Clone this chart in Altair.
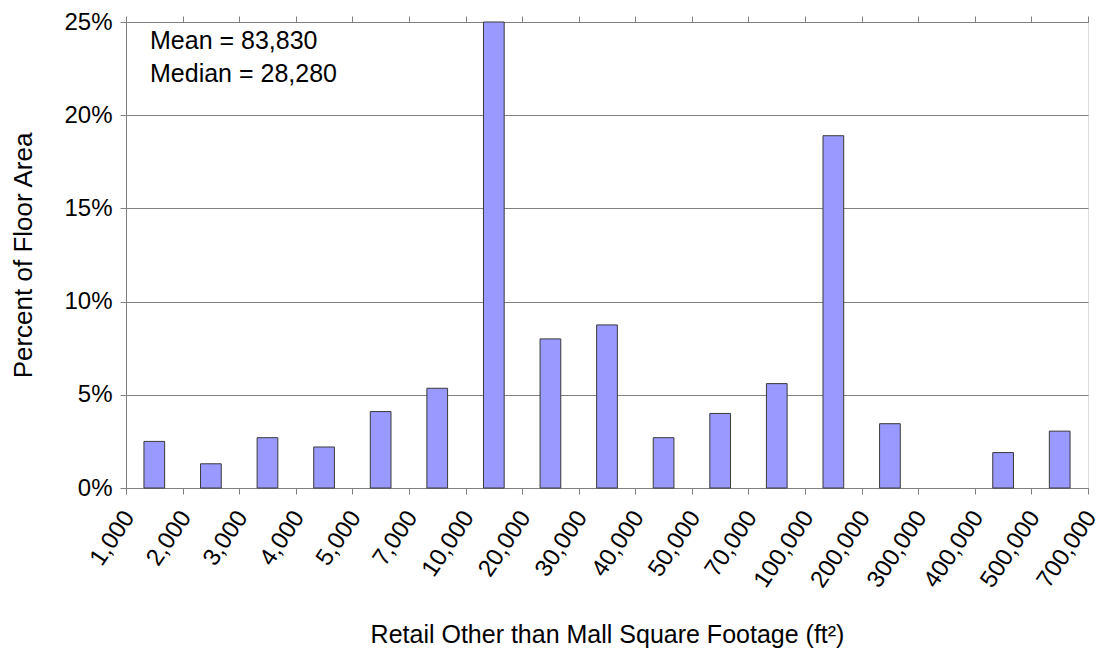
import altair as alt
import pandas as pd

# Category boundaries (tick labels) and bar values (% of floor area)
tick_labels = ["1,000", "2,000", "3,000", "4,000", "5,000", "7,000", "10,000",
               "20,000", "30,000", "40,000", "50,000", "70,000", "100,000",
               "200,000", "300,000", "400,000", "500,000", "700,000"]
pct_values = [2.5, 1.3, 2.7, 2.2, 4.1, 5.35, 25.0, 8.0, 8.75, 2.7, 4.0, 5.6,
              18.9, 3.45, 0.0, 1.9, 3.05]
annotations = ["Mean = 83,830", "Median = 28,280"]

BAR_HALF = 0.183  # half bar width, as a fraction of a category

df = pd.DataFrame({
    "idx": list(range(len(pct_values))),
    "pct": pct_values,
})
df["lo"] = df["idx"] + 0.5 - BAR_HALF
df["hi"] = df["idx"] + 0.5 + BAR_HALF

FONT = "Liberation Sans"
GRAY = "#808080"
n = len(tick_labels)
label_expr = "[" + ",".join("'%s'" % t for t in tick_labels) + "][datum.value]"

x_scale = alt.Scale(domain=[0, n - 1], nice=False, zero=False)
y_scale = alt.Scale(domain=[0, 25], nice=False)

bars = alt.Chart(df).transform_filter("datum.pct > 0").mark_rect(
    color="#9999FF", stroke="#3a3a3a", strokeWidth=1
).encode(
    x=alt.X("lo:Q", scale=x_scale,
            axis=alt.Axis(values=list(range(n)), labelExpr=label_expr,
                          labelAngle=-56, labelAlign="right", labelBaseline="middle",
                          labelFontSize=24, labelPadding=19, labelOffset=3,
                          labelColor="black",
                          labelOverlap=False, labelBound=False, labelFlush=False,
                          grid=False, tickSize=6, tickColor=GRAY, domainColor=GRAY,
                          title="Retail Other than Mall Square Footage (ft²)",
                          titleFontSize=25, titleFontWeight="normal",
                          titleY=154, titleBaseline="alphabetic", titleColor="black")),
    x2="hi:Q",
    y=alt.Y("pct:Q", scale=y_scale,
            axis=alt.Axis(values=[0, 5, 10, 15, 20, 25],
                          labelExpr="datum.value + '%'",
                          labelFontSize=24, labelPadding=8, labelColor="black",
                          labelOverlap=False, labelFlush=False,
                          grid=True, gridColor=GRAY, gridWidth=1,
                          tickSize=6, tickColor=GRAY, domainColor=GRAY,
                          title="Percent of Floor Area", titleFontSize=26,
                          titleFontWeight="normal", titleColor="black",
                          titleX=-103, titleBaseline="middle")),
    y2=alt.datum(0),
)

top_axis = alt.Chart(df).mark_point(opacity=0).encode(
    x=alt.X("idx:Q", scale=x_scale,
            axis=alt.Axis(orient="top", values=list(range(n)), labels=False,
                          title=None, grid=False, tickSize=6, tickColor=GRAY,
                          domainColor=GRAY)),
    y=alt.Y("pct:Q", scale=y_scale),
)

ann_df = pd.DataFrame({"text": annotations, "row": [0, 1]})
ann1 = alt.Chart(ann_df).transform_filter("datum.row == 0").mark_text(
    align="left", baseline="alphabetic", fontSize=25, font=FONT, color="black"
).encode(text="text:N", x=alt.value(24), y=alt.value(27))
ann2 = alt.Chart(ann_df).transform_filter("datum.row == 1").mark_text(
    align="left", baseline="alphabetic", fontSize=25, font=FONT, color="black"
).encode(text="text:N", x=alt.value(24), y=alt.value(60))

chart = alt.layer(bars, top_axis, ann1, ann2).resolve_axis(
    x="independent"
).properties(
    width=962, height=466,
    autosize=alt.AutoSizeParams(type="none"),
    padding={"left": 118, "top": 14, "right": 10, "bottom": 161},
).configure_view(
    stroke=GRAY, strokeWidth=1
).configure(
    font=FONT, background="white"
)

chart.save("out.html", embed_options={"renderer": "svg", "actions": False})
